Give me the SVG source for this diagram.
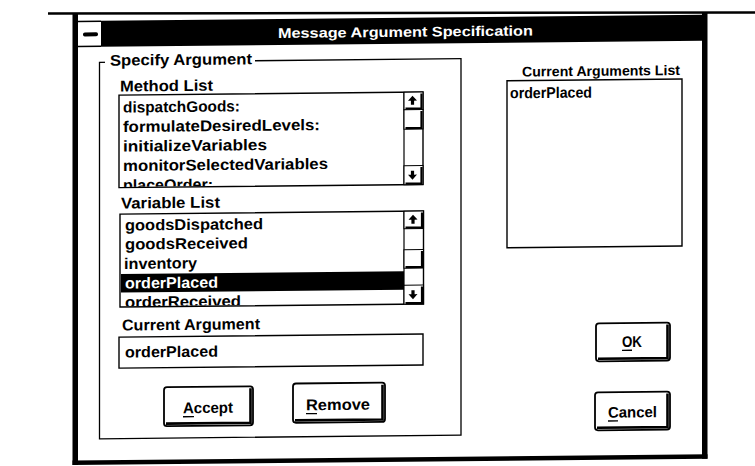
<svg xmlns="http://www.w3.org/2000/svg" width="755" height="466" viewBox="0 0 755 466">
<defs>
<style>
  text { font-family: "Liberation Sans", Arial, sans-serif; font-weight: bold; fill: #000; }
  .t { font-size: 15.5px; }
  .sm { font-size: 14px; }
  .title { font-size: 14px; fill: #fff; }
  .inv { fill: #fff; }
  .frame { fill: #fff; stroke: #000; stroke-width: 1.4; }
  .group { fill: none; stroke: #000; stroke-width: 1.3; }
  .btn { fill: #fff; stroke: #000; stroke-width: 1.8; }
  .shade { fill: none; stroke: #000; stroke-width: 2.6; }
  .sb { fill: #fff; stroke: #000; stroke-width: 1.1; }
  .sbshade { fill: none; stroke: #000; stroke-width: 2.2; }
  .ul { stroke: #000; stroke-width: 1.3; }
</style>
<clipPath id="clipMethods"><rect x="120" y="93.2" width="284" height="91.2"/></clipPath>
<clipPath id="clipVars"><rect x="121" y="212.2" width="283" height="91.6"/></clipPath>
<path id="arrowUp" d="M0,-5 L4.5,0 L1.6,0 L1.6,4 L-1.6,4 L-1.6,0 L-4.5,0 Z" fill="#000"/>
<path id="arrowDown" d="M0,5 L4.5,0 L1.6,0 L1.6,-4 L-1.6,-4 L-1.6,0 L-4.5,0 Z" fill="#000"/>
</defs>

<rect width="755" height="466" fill="#fff"/>

<!-- rule along the top edge -->
<line x1="48" y1="13.5" x2="755" y2="12.5" stroke="#000" stroke-width="2.5"/>

<!-- dialog, drawn in a slightly sheared frame -->
<g transform="matrix(1 -0.01 0 1 0 3.78)">

  <g id="window">
    <rect x="72.5" y="10" width="5.5" height="452" fill="#000"/>
    <rect x="702" y="16" width="5.5" height="446" fill="#000"/>
    <rect x="72.5" y="457.5" width="635" height="4.5" fill="#000"/>
  </g>

  <g id="titlebar">
    <rect x="101" y="18" width="601" height="26" fill="#000"/>
    <line x1="78" y1="18.6" x2="101" y2="18.6" stroke="#000" stroke-width="1.5"/>
    <line x1="78" y1="43.4" x2="101" y2="43.4" stroke="#000" stroke-width="1.5"/>
    <rect x="83" y="29.5" width="15" height="4" rx="1.8" fill="#000"/>
    <text class="title" x="405.5" y="37" text-anchor="middle" textLength="255" lengthAdjust="spacingAndGlyphs">Message Argument Specification</text>
  </g>

  <g id="specify-argument">
    <rect class="group" x="99.5" y="59.5" width="361.5" height="376.5"/>
    <rect x="105" y="50" width="150" height="16" fill="#fff"/>
    <text class="t" x="110" y="63" textLength="142" lengthAdjust="spacingAndGlyphs">Specify Argument</text>
  </g>

  <g id="method-list">
    <text class="t" x="120" y="89" textLength="93" lengthAdjust="spacingAndGlyphs">Method List</text>
    <rect class="frame" x="119" y="92.5" width="304" height="92.5"/>
    <g clip-path="url(#clipMethods)">
      <text class="t" x="123" y="110" textLength="117" lengthAdjust="spacingAndGlyphs">dispatchGoods:</text>
      <text class="t" x="123" y="129.5" textLength="197" lengthAdjust="spacingAndGlyphs">formulateDesiredLevels:</text>
      <text class="t" x="123" y="149" textLength="144" lengthAdjust="spacingAndGlyphs">initializeVariables</text>
      <text class="t" x="123" y="168.5" textLength="205" lengthAdjust="spacingAndGlyphs">monitorSelectedVariables</text>
      <text class="t" x="123" y="188" textLength="90" lengthAdjust="spacingAndGlyphs">placeOrder:</text>
    </g>
    <line x1="404" y1="92.5" x2="404" y2="185" stroke="#000" stroke-width="1.2"/>
    <rect class="sb" x="404" y="92.5" width="19" height="17.5"/>
    <path class="sbshade" d="M421.5,94 V108.8 H405.5"/>
    <use href="#arrowUp" x="412.5" y="101"/>
    <rect class="sb" x="404" y="110" width="19" height="19.5"/>
    <path class="sbshade" d="M421.5,111.5 V128.3 H405.5"/>
    <rect class="sb" x="404" y="166" width="19" height="19"/>
    <path class="sbshade" d="M421.5,167.5 V183.8 H405.5"/>
    <use href="#arrowDown" x="412.5" y="175"/>
  </g>

  <g id="variable-list">
    <text class="t" x="121" y="206" textLength="99" lengthAdjust="spacingAndGlyphs">Variable List</text>
    <rect class="frame" x="120" y="211.5" width="303.5" height="93"/>
    <g clip-path="url(#clipVars)">
      <text class="t" x="125" y="228" textLength="138" lengthAdjust="spacingAndGlyphs">goodsDispatched</text>
      <text class="t" x="125" y="247" textLength="123" lengthAdjust="spacingAndGlyphs">goodsReceived</text>
      <text class="t" x="124" y="266.5" textLength="73" lengthAdjust="spacingAndGlyphs">inventory</text>
      <rect x="120.5" y="271.5" width="283.5" height="18.5" fill="#000"/>
      <text class="t inv" x="125" y="286" textLength="93" lengthAdjust="spacingAndGlyphs">orderPlaced</text>
      <text class="t" x="125" y="305" textLength="116" lengthAdjust="spacingAndGlyphs">orderReceived</text>
    </g>
    <line x1="404" y1="211.5" x2="404" y2="304.5" stroke="#000" stroke-width="1.2"/>
    <rect class="sb" x="404" y="211.5" width="19.5" height="17.5"/>
    <path class="sbshade" d="M422,213 V227.8 H405.5"/>
    <use href="#arrowUp" x="413" y="220"/>
    <rect class="sb" x="404" y="250" width="19.5" height="18.5"/>
    <path class="sbshade" d="M422,251.5 V267.3 H405.5"/>
    <rect class="sb" x="404" y="285.5" width="19.5" height="19"/>
    <path class="sbshade" d="M422,287 V303.3 H405.5"/>
    <use href="#arrowDown" x="413" y="294.5"/>
  </g>

  <g id="current-argument">
    <text class="t" x="122" y="328" textLength="138" lengthAdjust="spacingAndGlyphs">Current Argument</text>
    <rect class="frame" x="119" y="334.5" width="304" height="31"/>
    <text class="t" x="125" y="355" textLength="93" lengthAdjust="spacingAndGlyphs">orderPlaced</text>
  </g>

  <g id="accept-button">
    <rect class="btn" x="164" y="385" width="89" height="39" rx="3"/>
    <path class="shade" d="M250.5,387 V421.5 H166"/>
    <text class="t" x="183" y="411.3" textLength="50" lengthAdjust="spacingAndGlyphs">Accept</text>
    <line class="ul" x1="183" y1="414.8" x2="194" y2="414.8"/>
  </g>

  <g id="remove-button">
    <rect class="btn" x="293" y="382.7" width="92" height="39.3" rx="3"/>
    <path class="shade" d="M382.5,384.7 V419.5 H295"/>
    <text class="t" x="306" y="409.6" textLength="64" lengthAdjust="spacingAndGlyphs">Remove</text>
    <line class="ul" x1="306" y1="413" x2="317" y2="413"/>
  </g>

  <g id="current-arguments-list">
    <text class="sm" x="522" y="78" textLength="158" lengthAdjust="spacingAndGlyphs">Current Arguments List</text>
    <rect class="frame" x="507" y="82" width="175" height="167"/>
    <text class="t" x="510" y="99.7" textLength="82" lengthAdjust="spacingAndGlyphs">orderPlaced</text>
  </g>

  <g id="ok-button">
    <rect class="btn" x="596" y="325.5" width="74" height="38" rx="3"/>
    <path class="shade" d="M667.5,327.5 V361 H598"/>
    <text class="t" x="622" y="349.5" textLength="20" lengthAdjust="spacingAndGlyphs">OK</text>
    <line class="ul" x1="622" y1="352.8" x2="632" y2="352.8"/>
  </g>

  <g id="cancel-button">
    <rect class="btn" x="595" y="394.5" width="75" height="38" rx="3"/>
    <path class="shade" d="M667.5,396.5 V430 H597"/>
    <text class="t" x="608" y="420" textLength="49" lengthAdjust="spacingAndGlyphs">Cancel</text>
    <line class="ul" x1="608" y1="423.3" x2="618" y2="423.3"/>
  </g>
</g>
</svg>
